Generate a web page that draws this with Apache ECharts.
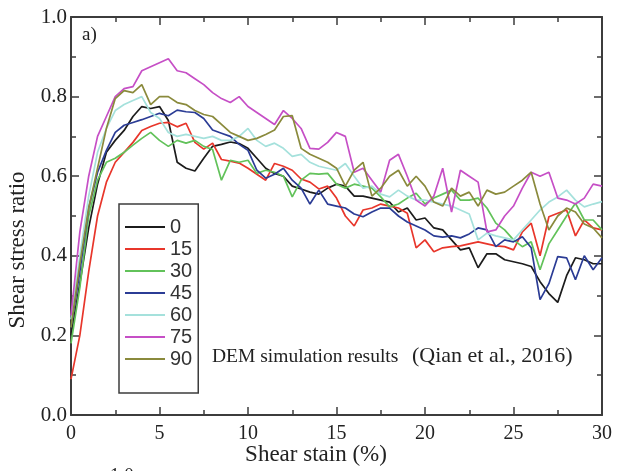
<!DOCTYPE html>
<html>
<head>
<meta charset="utf-8">
<script src="https://cdn.jsdelivr.net/npm/echarts@6/dist/echarts.min.js"></script>
<style>
  html, body { margin: 0; padding: 0; background: #fff; }
  #chart { width: 618px; height: 471px; }
</style>
</head>
<body>
<div id="chart"></div>
<script>
// shear strain (%) sample points
var strain = [0, 0.5, 1, 1.5, 2, 2.5, 3, 3.5, 4, 4.5, 5, 5.5, 6, 6.5, 7, 7.5, 8, 8.5, 9, 9.5,
  10, 10.5, 11, 11.5, 12, 12.5, 13, 13.5, 14, 14.5, 15, 15.5, 16, 16.5, 17, 17.5, 18, 18.5, 19, 19.5,
  20, 20.5, 21, 21.5, 22, 22.5, 23, 23.5, 24, 24.5, 25, 25.5, 26, 26.5, 27, 27.5, 28, 28.5, 29, 29.5, 30];

var names = ['0', '15', '30', '45', '60', '75', '90'];
var colors = ['#1c1c1c', '#e8362b', '#62c25a', '#2b3c95', '#a5e1dc', '#c64fc6', '#8a8a3c'];

var s0 = [0.2, 0.33, 0.47, 0.58, 0.66, 0.69, 0.715, 0.75, 0.775, 0.77, 0.775, 0.74, 0.635, 0.62, 0.613, 0.645, 0.675, 0.68, 0.686, 0.682,
  0.67, 0.645, 0.62, 0.607, 0.6, 0.575, 0.568, 0.56, 0.555, 0.57, 0.58, 0.575, 0.55, 0.55, 0.545, 0.54, 0.535, 0.51, 0.52, 0.49,
  0.495, 0.47, 0.465, 0.44, 0.415, 0.42, 0.37, 0.405, 0.405, 0.39, 0.385, 0.38, 0.373, 0.335, 0.305, 0.283, 0.35, 0.395, 0.39, 0.38, 0.38];
var s15 = [0.09, 0.2, 0.36, 0.5, 0.585, 0.635, 0.66, 0.685, 0.715, 0.725, 0.733, 0.735, 0.724, 0.733, 0.685, 0.668, 0.683, 0.642, 0.638, 0.633,
  0.62, 0.605, 0.59, 0.632, 0.625, 0.615, 0.593, 0.585, 0.568, 0.575, 0.545, 0.5, 0.475, 0.515, 0.52, 0.53, 0.525, 0.52, 0.507, 0.42,
  0.44, 0.41, 0.42, 0.423, 0.425, 0.43, 0.435, 0.43, 0.425, 0.423, 0.415, 0.46, 0.482, 0.4, 0.498, 0.507, 0.515, 0.45, 0.49, 0.47, 0.465];
var s30 = [0.18, 0.32, 0.5, 0.59, 0.635, 0.645, 0.66, 0.678, 0.695, 0.71, 0.69, 0.675, 0.69, 0.683, 0.69, 0.675, 0.667, 0.59, 0.64, 0.635,
  0.64, 0.607, 0.615, 0.61, 0.6, 0.548, 0.59, 0.607, 0.605, 0.607, 0.58, 0.57, 0.58, 0.575, 0.57, 0.548, 0.523, 0.53, 0.545, 0.557,
  0.53, 0.545, 0.555, 0.565, 0.54, 0.54, 0.545, 0.52, 0.482, 0.465, 0.44, 0.423, 0.435, 0.365, 0.43, 0.465, 0.5, 0.532, 0.49, 0.49, 0.465];
var s45 = [0.22, 0.36, 0.52, 0.61, 0.665, 0.71, 0.728, 0.735, 0.742, 0.75, 0.758, 0.752, 0.766, 0.762, 0.76, 0.745, 0.716, 0.708, 0.7, 0.68,
  0.665, 0.615, 0.595, 0.605, 0.62, 0.59, 0.57, 0.53, 0.565, 0.53, 0.525, 0.52, 0.505, 0.498, 0.51, 0.52, 0.52, 0.5, 0.485, 0.475,
  0.465, 0.45, 0.447, 0.45, 0.445, 0.455, 0.47, 0.465, 0.423, 0.44, 0.435, 0.448, 0.42, 0.29, 0.33, 0.398, 0.395, 0.34, 0.4, 0.365, 0.395];
var s60 = [0.24, 0.4, 0.55, 0.66, 0.72, 0.765, 0.78, 0.79, 0.8, 0.76, 0.745, 0.71, 0.7, 0.705, 0.7, 0.695, 0.7, 0.69, 0.69, 0.7,
  0.72, 0.69, 0.675, 0.683, 0.67, 0.65, 0.655, 0.635, 0.625, 0.62, 0.615, 0.632, 0.6, 0.57, 0.575, 0.555, 0.548, 0.565, 0.55, 0.54,
  0.54, 0.535, 0.53, 0.525, 0.515, 0.505, 0.44, 0.457, 0.45, 0.445, 0.44, 0.465, 0.49, 0.515, 0.535, 0.548, 0.565, 0.54, 0.523, 0.53, 0.536];
var s75 = [0.25, 0.46, 0.6, 0.7, 0.75, 0.8, 0.82, 0.825, 0.865, 0.875, 0.885, 0.895, 0.865, 0.86, 0.845, 0.83, 0.81, 0.795, 0.785, 0.8,
  0.775, 0.76, 0.745, 0.73, 0.765, 0.745, 0.72, 0.67, 0.668, 0.685, 0.71, 0.7, 0.61, 0.62, 0.59, 0.56, 0.64, 0.655, 0.6, 0.54,
  0.525, 0.55, 0.62, 0.51, 0.615, 0.6, 0.585, 0.46, 0.465, 0.5, 0.525, 0.57, 0.61, 0.6, 0.61, 0.545, 0.54, 0.53, 0.545, 0.58, 0.575];
var s90 = [0.22, 0.38, 0.52, 0.62, 0.72, 0.795, 0.815, 0.81, 0.83, 0.78, 0.8, 0.8, 0.785, 0.78, 0.765, 0.755, 0.75, 0.73, 0.71, 0.7,
  0.69, 0.695, 0.705, 0.716, 0.75, 0.752, 0.67, 0.655, 0.645, 0.635, 0.62, 0.575, 0.615, 0.635, 0.55, 0.57, 0.6, 0.615, 0.575, 0.6,
  0.575, 0.535, 0.525, 0.57, 0.55, 0.56, 0.525, 0.565, 0.555, 0.56, 0.575, 0.59, 0.61, 0.53, 0.465, 0.5, 0.52, 0.51, 0.48, 0.47, 0.445];

var allValues = [s0, s15, s30, s45, s60, s75, s90];

var serif = 'Liberation Serif, "Times New Roman", serif';
var axisColor = '#3c3c3c';

function pairs(vals) {
  return strain.map(function (s, i) { return [s, vals[i]]; });
}

function frameAxis(extra) {
  var base = {
    type: 'value',
    axisLine: { show: true, onZero: false, lineStyle: { color: axisColor, width: 2 } },
    axisTick: { show: true, inside: true, length: 8, lineStyle: { color: axisColor, width: 1.5 } },
    minorTick: { show: true, splitNumber: 2, length: 5, lineStyle: { color: axisColor, width: 1.5 } },
    splitLine: { show: false },
    minorSplitLine: { show: false }
  };
  return Object.assign(base, extra);
}

var series = names.map(function (n, k) {
  return {
    name: n,
    type: 'line',
    data: pairs(allValues[k]),
    symbol: 'none',
    lineStyle: { color: colors[k], width: 1.7 },
    itemStyle: { color: colors[k] },
    emphasis: { disabled: true }
  };
});

var chart = echarts.init(document.getElementById('chart'), null, { renderer: 'canvas' });
chart.setOption({
  animation: false,
  backgroundColor: '#fff',
  grid: { left: 71, right: 16, top: 17, bottom: 56 },
  xAxis: [
    frameAxis({
      min: 0, max: 30, interval: 5, position: 'bottom',
      axisLabel: { color: '#222', fontFamily: serif, fontSize: 20, margin: 9 }
    }),
    frameAxis({
      min: 0, max: 30, interval: 5, position: 'top',
      axisLabel: { show: false }
    })
  ],
  yAxis: [
    frameAxis({
      min: 0, max: 1, interval: 0.2, position: 'left',
      axisLabel: {
        color: '#222', fontFamily: serif, fontSize: 21, margin: 4,
        formatter: function (v) { return v.toFixed(1); }
      }
    }),
    frameAxis({
      min: 0, max: 1, interval: 0.2, position: 'right',
      axisLabel: { show: false }
    })
  ],
  legend: {
    data: names.map(function (n) { return { name: n, icon: 'rect' }; }),
    orient: 'vertical',
    left: 119,
    top: 204,
    padding: [13, 6, 24, 6],
    itemGap: 2,
    itemWidth: 40,
    itemHeight: 2,
    borderColor: axisColor,
    borderWidth: 1.5,
    selectedMode: false,
    textStyle: { fontFamily: 'Liberation Sans, Arial, sans-serif', fontSize: 20, color: '#333', lineHeight: 20 }
  },
  series: series,
  graphic: [
    { type: 'text', left: 82, top: 26, style: { text: 'a)', font: '19px ' + serif, fill: '#222' } },
    { type: 'text', x: 212, y: 357, style: { text: 'DEM simulation results', font: '19.5px ' + serif, fill: '#222', verticalAlign: 'middle' } },
    { type: 'text', x: 412, y: 356, style: { text: '(Qian et al., 2016)', font: '22px ' + serif, fill: '#222', verticalAlign: 'middle' } },
    { type: 'text', x: 316, y: 455, style: { text: 'Shear stain (%)', font: '23px ' + serif, fill: '#222', align: 'center', verticalAlign: 'middle' } },
    { type: 'text', x: 18, y: 250, rotation: Math.PI / 2, style: { text: 'Shear stress ratio', font: '23px ' + serif, fill: '#222', align: 'center', verticalAlign: 'middle' } },
    { type: 'text', x: 110, y: 467, style: { text: '1.0', font: '19px ' + serif, fill: '#222' } }
  ]
});
</script>
</body>
</html>
